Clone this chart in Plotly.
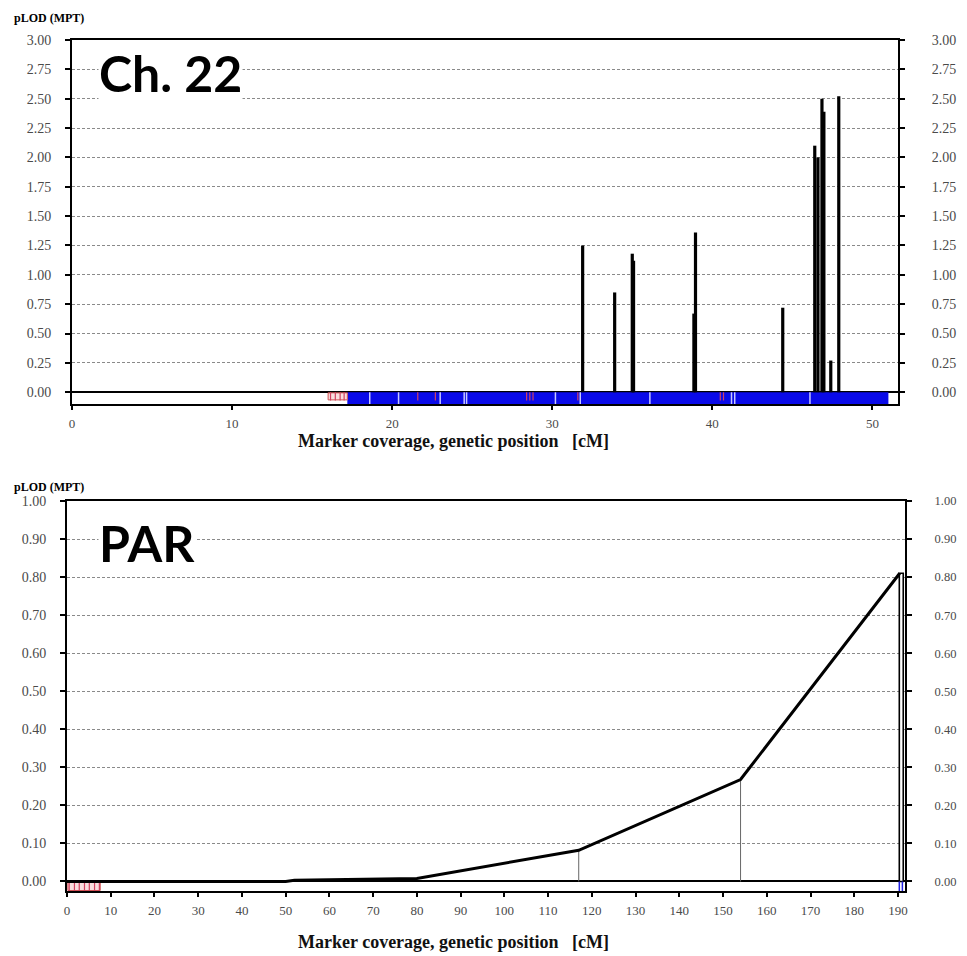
import plotly.graph_objects as go

# page body has an 8px margin; figure is sized/placed to fill the 967x956 window
OFF = 8
W, H = 967 - OFF, 956 - OFF


def PX(px):
    return (px - OFF) / W


def PY(py):
    return 1 - (py - OFF) / H


# ---------------- Ch. 22 data ----------------
ch22_peak_pos = [31.9, 33.9, 35.0, 35.08, 38.85, 38.95, 44.4, 46.4, 46.6, 46.85, 46.97, 47.4, 47.9]
ch22_peak_lod = [1.25, 0.85, 1.18, 1.12, 0.67, 1.36, 0.72, 2.10, 2.00, 2.50, 2.39, 0.27, 2.52]
ch22_cov_start, ch22_cov_end = 17.2, 51.0
ch22_red_box = [16.0, 17.2]
ch22_red_marks = [16.15, 16.45, 16.75, 17.0, 21.6, 22.7, 28.4, 28.6, 28.8, 31.6, 40.5, 40.7]
ch22_white_gaps = [18.6, 20.4, 23.0, 24.5, 24.65, 30.2, 31.75, 36.1, 41.2, 41.4, 46.1]
ch22_yticks = [0.0, 0.25, 0.5, 0.75, 1.0, 1.25, 1.5, 1.75, 2.0, 2.25, 2.5, 2.75, 3.0]
ch22_xticks = [0, 10, 20, 30, 40, 50]

# ---------------- PAR data ----------------
par_curve_pos = [0, 50, 52, 80, 117, 154, 190.4]
par_curve_lod = [0.0, 0.0, 0.003, 0.008, 0.082, 0.268, 0.81]
par_stick_pos = [117, 154]
par_stick_lod = [0.082, 0.268]
par_peak_pos = [190.75]
par_peak_lod = [0.81]
par_red_box = [0.2, 7.6]
par_red_marks = [0.5, 1.7, 2.8, 4.0, 5.1, 6.3, 7.4]
par_blue_marks = [190.3, 191.0]
par_yticks = [0.0, 0.1, 0.2, 0.3, 0.4, 0.5, 0.6, 0.7, 0.8, 0.9, 1.0]
par_xticks = list(range(0, 191, 10))

SERIF = "Liberation Serif"


def segs(xs, y0, y1):
    X, Y = [], []
    for x in xs:
        X += [x, x, None]
        Y += [y0, y1, None]
    return X, Y


fig = go.Figure()

# ---- Ch.22 traces (x, y) ----
strip1 = -0.1
fig.add_trace(go.Bar(orientation="h", y=[strip1 / 2], x=[ch22_cov_end - ch22_cov_start],
                     base=[ch22_cov_start], width=[-strip1], marker=dict(color="#0a0ae8", line_width=0),
                     xaxis="x", yaxis="y", showlegend=False))
fig.add_trace(go.Bar(orientation="h", y=[strip1 * 0.35], x=[ch22_red_box[1] - ch22_red_box[0]],
                     base=[ch22_red_box[0]], width=[-strip1 * 0.6],
                     marker=dict(color="#f8dede", line=dict(color="#d05050", width=1)),
                     xaxis="x", yaxis="y", showlegend=False))
gx, gy = segs(ch22_white_gaps, 0, strip1)
fig.add_trace(go.Scatter(x=gx, y=gy, mode="lines", line=dict(color="#c8c8ff", width=1.5),
                         xaxis="x", yaxis="y", showlegend=False))
rx, ry = segs(ch22_red_marks, 0, strip1 * 0.7)
fig.add_trace(go.Scatter(x=rx, y=ry, mode="lines", line=dict(color="#d04060", width=1.2),
                         xaxis="x", yaxis="y", showlegend=False))
fig.add_trace(go.Bar(x=ch22_peak_pos, y=ch22_peak_lod, width=0.2,
                     marker=dict(color="black", line_width=0),
                     xaxis="x", yaxis="y", showlegend=False))
fig.add_trace(go.Scatter(x=[0], y=[0], mode="markers", marker_opacity=0, xaxis="x", yaxis="y3",
                         showlegend=False, hoverinfo="skip"))

# ---- PAR traces (x2, y2) ----
strip2 = -0.025
fig.add_trace(go.Bar(orientation="h", y=[strip2 / 2], x=[par_red_box[1] - par_red_box[0]],
                     base=[par_red_box[0]], width=[-strip2 * 0.9],
                     marker=dict(color="#f8dede", line=dict(color="#d05050", width=1)),
                     xaxis="x2", yaxis="y2", showlegend=False))
rx2, ry2 = segs(par_red_marks, 0, strip2)
fig.add_trace(go.Scatter(x=rx2, y=ry2, mode="lines", line=dict(color="#d04060", width=1.2),
                         xaxis="x2", yaxis="y2", showlegend=False))
bx2, by2 = segs(par_blue_marks, 0, strip2)
fig.add_trace(go.Scatter(x=bx2, y=by2, mode="lines", line=dict(color="#2020e0", width=1.5),
                         xaxis="x2", yaxis="y2", showlegend=False))
sx, sy = [], []
for p, v in zip(par_stick_pos, par_stick_lod):
    sx += [p, p, None]
    sy += [0, v, None]
fig.add_trace(go.Scatter(x=sx, y=sy, mode="lines", line=dict(color="#666666", width=1),
                         xaxis="x2", yaxis="y2", showlegend=False))
fig.add_trace(go.Scatter(x=par_curve_pos, y=par_curve_lod, mode="lines",
                         line=dict(color="black", width=3),
                         xaxis="x2", yaxis="y2", showlegend=False))
fig.add_trace(go.Bar(x=par_peak_pos, y=par_peak_lod, width=0.9,
                     marker=dict(color="white", line=dict(color="black", width=1.6)),
                     xaxis="x2", yaxis="y2", showlegend=False))
fig.add_trace(go.Scatter(x=[0], y=[0], mode="markers", marker_opacity=0, xaxis="x2", yaxis="y4",
                         showlegend=False, hoverinfo="skip"))

ytickfont = dict(family=SERIF, size=14, color="#4a4a4a")
ytickfont_r2 = dict(family=SERIF, size=12.5, color="#4a4a4a")
xtickfont = dict(family=SERIF, size=13, color="#4a4a4a")

# domains (pixel based, window coordinates)
x1d = [PX(72), PX(898)]
y1d = [PY(404), PY(40)]
x2d = [PX(67), PX(905)]
y2d = [PY(891), PY(501)]

common_y = dict(showgrid=True, gridcolor="#8a8a8a", griddash="3px,2px", gridwidth=1,
                zeroline=True, zerolinecolor="black", zerolinewidth=2,
                showline=True, linecolor="black", linewidth=2, automargin=False,
                ticks="outside", ticklen=5, tickwidth=1.5, tickcolor="black",
                tickfont=ytickfont, tickformat=".2f", ticklabelstandoff=11)
right_y = dict(showgrid=False, zeroline=False, showline=True, linecolor="black", linewidth=2,
               automargin=False, ticks="outside", ticklen=5, tickwidth=1.5, tickcolor="black",
               tickformat=".2f")
common_x = dict(showgrid=False, zeroline=False, showline=True, linecolor="black", linewidth=2,
                mirror=True, ticks="outside", ticklen=4, tickwidth=1.5, tickcolor="black",
                tickfont=xtickfont, automargin=False, ticklabelstandoff=2)

fig.update_layout(
    width=W, height=H,
    margin=dict(l=0, r=0, t=0, b=0, autoexpand=False),
    paper_bgcolor="white", plot_bgcolor="white",
    barmode="overlay",
    showlegend=False,
    xaxis=dict(domain=x1d, range=[0, 51.6], anchor="y", tickvals=ch22_xticks, **common_x),
    yaxis=dict(domain=y1d, range=[-0.1, 3.0], anchor="x", tickvals=ch22_yticks, **common_y),
    yaxis3=dict(overlaying="y", side="right", anchor="x", range=[-0.1, 3.0], tickvals=ch22_yticks,
                tickfont=ytickfont, ticklabelstandoff=24, **right_y),
    xaxis2=dict(domain=x2d, range=[0, 191.6], anchor="y2", tickvals=par_xticks, **common_x),
    yaxis2=dict(domain=y2d, range=[-0.025, 1.0], anchor="x2", tickvals=par_yticks, **common_y),
    yaxis4=dict(overlaying="y2", side="right", anchor="x2", range=[-0.025, 1.0], tickvals=par_yticks,
                tickfont=ytickfont_r2, ticklabelstandoff=20, **right_y),
)

xlabel = "Marker coverage, genetic position&nbsp;&nbsp;&nbsp;[cM]"
ann = [
    dict(text="<b>pLOD (MPT)</b>", x=PX(12), y=PY(18), xanchor="left", yanchor="middle",
         font=dict(family=SERIF, size=12, color="black"), showarrow=False, xref="paper", yref="paper"),
    dict(text="<b>pLOD (MPT)</b>", x=PX(12), y=PY(487), xanchor="left", yanchor="middle",
         font=dict(family=SERIF, size=12, color="black"), showarrow=False, xref="paper", yref="paper"),
    dict(text="<b>" + xlabel + "</b>", x=PX(453), y=PY(441), xanchor="center", yanchor="middle",
         font=dict(family=SERIF, size=18, color="#111111"), showarrow=False, xref="paper", yref="paper"),
    dict(text="<b>" + xlabel + "</b>", x=PX(453), y=PY(942), xanchor="center", yanchor="middle",
         font=dict(family=SERIF, size=18, color="#111111"), showarrow=False, xref="paper", yref="paper"),
    dict(text="<b>Ch. 22</b>", x=PX(98), y=PY(73), xanchor="left", yanchor="middle",
         font=dict(family="Lato", size=50, color="black"), showarrow=False, xref="paper", yref="paper",
         bgcolor="white", borderpad=0),
    dict(text="<b>PAR</b>", x=PX(98), y=PY(543), xanchor="left", yanchor="middle",
         font=dict(family="Lato", size=50, color="black"), showarrow=False, xref="paper", yref="paper",
         bgcolor="white", borderpad=0),
]
fig.update_layout(annotations=ann)

fig.write_html("out.html")
